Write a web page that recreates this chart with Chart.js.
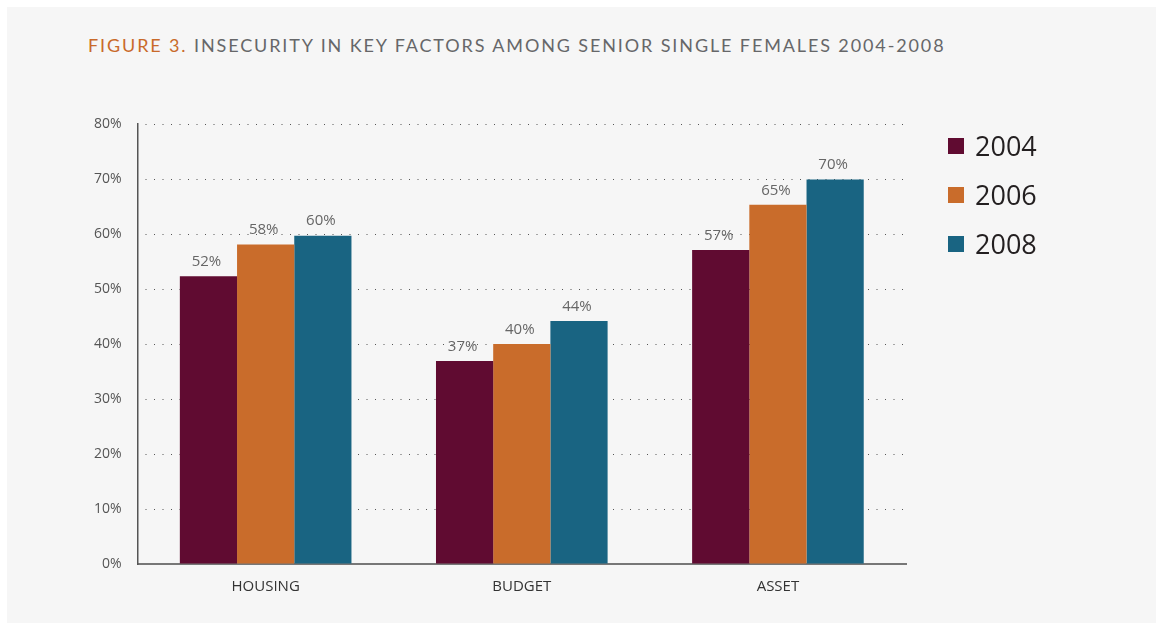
<!DOCTYPE html>
<html>
<head>
<meta charset="utf-8">
<script src="https://cdn.jsdelivr.net/npm/chart.js@4/dist/chart.umd.min.js"></script>
<style>
  body { margin: 0; background: #fff; }
  #wrap { position: relative; width: 1156px; height: 624px; overflow: hidden; }
  #panel { position: absolute; left: 7px; top: 7px; width: 1149px; height: 616px; background: #f6f6f6; }
  #title { position: absolute; left: 88px; top: 34px; font-family: Lato, sans-serif; font-size: 18px;
           letter-spacing: 1.88px; color: #666769; white-space: nowrap; }
  #title span { color: #c96a2a; }
  #legend { position: absolute; left: 948px; top: 121px; font-family: "Open Sans", sans-serif; }
  .item { height: 49px; display: flex; align-items: center; font-size: 27px; color: #231f20; }
  .sw { width: 16px; height: 16px; margin-right: 11px; }
  canvas { position: absolute; left: 0; top: 0; }
</style>
</head>
<body>
<div id="wrap">
  <div id="panel"></div>
  <div id="title"><span>FIGURE 3.</span> INSECURITY IN KEY FACTORS AMONG SENIOR SINGLE FEMALES 2004-2008</div>
  <canvas id="chart" width="1156" height="624"></canvas>
  <div id="legend"></div>
</div>
<script>
const categories = ['HOUSING', 'BUDGET', 'ASSET'];
const years = ['2004', '2006', '2008'];
const values2004 = [52.3, 36.9, 57.1];
const values2006 = [58.1, 40.0, 65.3];
const values2008 = [59.7, 44.2, 69.9];
const labels2004 = ['52%', '37%', '57%'];
const labels2006 = ['58%', '40%', '65%'];
const labels2008 = ['60%', '44%', '70%'];
const colors = ['#600b31', '#c96c2b', '#196482'];

const seriesValues = [values2004, values2006, values2008];
const seriesLabels = [labels2004, labels2006, labels2008];

// legend
const legend = document.getElementById('legend');
years.forEach((y, i) => {
  legend.innerHTML += `<div class="item"><div class="sw" style="background:${colors[i]}"></div>${y}</div>`;
});

const valueLabels = {
  id: 'valueLabels',
  afterDatasetsDraw(chart) {
    const ctx = chart.ctx;
    ctx.save();
    ctx.font = '15px "Open Sans", sans-serif';
    ctx.fillStyle = '#666';
    ctx.textAlign = 'center';
    ctx.textBaseline = 'bottom';
    chart.data.datasets.forEach((ds, i) => {
      chart.getDatasetMeta(i).data.forEach((bar, j) => {
        ctx.fillText(seriesLabels[i][j], bar.x - 2, bar.y - 7);
      });
    });
    ctx.restore();
  }
};

new Chart(document.getElementById('chart'), {
  type: 'bar',
  data: {
    labels: categories,
    datasets: years.map((y, i) => ({
      label: y,
      data: seriesValues[i],
      backgroundColor: colors[i],
      borderWidth: 0
    }))
  },
  options: {
    responsive: false,
    animation: false,
    layout: { padding: { left: 78, right: 250, top: 124, bottom: 14 } },
    categoryPercentage: 0.67,
    barPercentage: 1.0,
    plugins: { legend: { display: false }, tooltip: { enabled: false } },
    scales: {
      x: {
        grid: { display: false, drawTicks: false },
        border: { color: '#777', width: 2 },
        ticks: { color: '#333', font: { family: 'Open Sans', size: 15 }, padding: 14 }
      },
      y: {
        min: 0, max: 80,
        ticks: {
          stepSize: 10,
          callback: v => v + '%',
          color: '#555',
          font: { family: 'Open Sans', size: 14 },
          padding: 16
        },
        grid: { color: '#555', lineWidth: 1, drawTicks: false },
        border: { color: '#555', width: 1.5, dash: [1, 7.5], dashOffset: -7 }
      }
    }
  },
  plugins: [valueLabels]
});
</script>
</body>
</html>
